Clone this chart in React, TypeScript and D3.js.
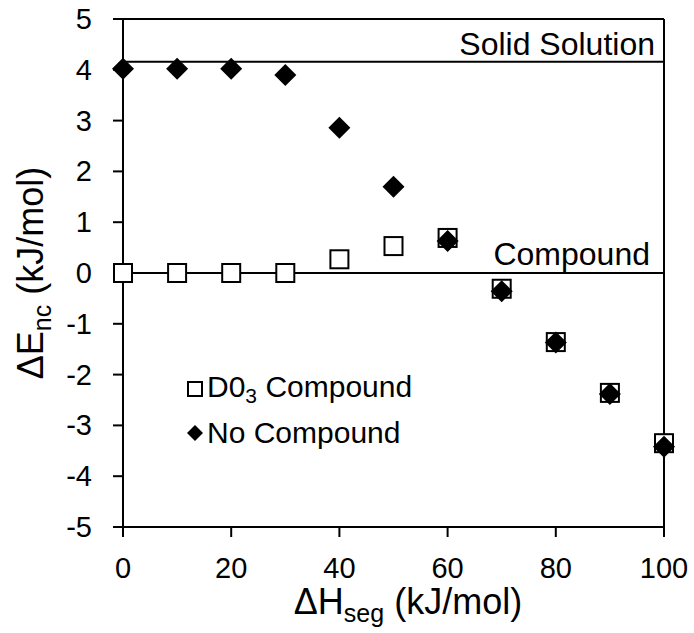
import React from "react";
import * as d3 from "d3";

// x values (kJ/mol)
const dHseg = [0, 10, 20, 30, 40, 50, 60, 70, 80, 90, 100];
// D0_3 compound series
const d03Compound = [0, 0, 0, 0, 0.27, 0.53, 0.69, -0.31, -1.36, -2.36, -3.35];
// no compound series
const noCompound = [4.02, 4.02, 4.02, 3.9, 2.86, 1.7, 0.63, -0.36, -1.37, -2.38, -3.42];
const xTicks = [0, 20, 40, 60, 80, 100];
const yTicks = [5, 4, 3, 2, 1, 0, -1, -2, -3, -4, -5];
const solidSolutionLevel = 4.16;
const compoundLevel = 0;

const W = 694, H = 633;
const margin = { top: 19, right: 30, bottom: 106, left: 123 };
const font = "'Liberation Sans', Arial, sans-serif";

export default function App() {
  const x = d3.scaleLinear().domain([0, 100]).range([margin.left, W - margin.right]);
  const y = d3.scaleLinear().domain([-5, 5]).range([H - margin.bottom, margin.top]);
  const x0 = x(0), x1 = x(100), y0 = y(-5), y1 = y(5);

  const diamond = (cx: number, cy: number, r: number) =>
    `M${cx},${cy - r}L${cx + r},${cy}L${cx},${cy + r}L${cx - r},${cy}Z`;

  return (
    <svg width={W} height={H} style={{ position: "absolute", left: 0, top: 0, background: "#fff" }}
      fontFamily={font}>
      {/* frame */}
      <line x1={x0 - 10} x2={x1} y1={y1} y2={y1} stroke="#000" strokeWidth={2} />
      <line x1={x1} x2={x1} y1={y1} y2={y0} stroke="#000" strokeWidth={2} />
      <line x1={x0} x2={x1} y1={y0} y2={y0} stroke="#000" strokeWidth={2} />
      <line x1={x0} x2={x0} y1={y1} y2={y0 + 10} stroke="#000" strokeWidth={2} />

      {/* reference lines */}
      <line x1={x0} x2={x1} y1={y(solidSolutionLevel)} y2={y(solidSolutionLevel)} stroke="#000" strokeWidth={2} />
      <line x1={x0} x2={x1} y1={y(compoundLevel)} y2={y(compoundLevel)} stroke="#000" strokeWidth={2} />

      {/* y ticks */}
      {yTicks.map(t => (
        <g key={"y" + t}>
          <line x1={x0 - 10} x2={x0} y1={y(t)} y2={y(t)} stroke="#000" strokeWidth={2} />
          <text x={92} y={y(t) + 10} textAnchor="end" fontSize={29}>{t}</text>
        </g>
      ))}
      {/* x ticks */}
      {xTicks.map(t => (
        <g key={"x" + t}>
          <line x1={x(t)} x2={x(t)} y1={y0} y2={y0 + 10} stroke="#000" strokeWidth={2} />
          <text x={x(t)} y={578} textAnchor="middle" fontSize={29}>{t}</text>
        </g>
      ))}

      {/* annotations */}
      <text x={655} y={55} textAnchor="end" fontSize={32}>Solid Solution</text>
      <text x={650} y={265} textAnchor="end" fontSize={32}>Compound</text>

      {/* squares */}
      {dHseg.map((d, i) => (
        <rect key={"s" + i} x={x(d) - 9} y={y(d03Compound[i]) - 9} width={18} height={18}
          fill="#fff" stroke="#000" strokeWidth={2} />
      ))}
      {/* diamonds */}
      {dHseg.map((d, i) => (
        <path key={"d" + i} d={diamond(x(d), y(noCompound[i]), 11)} fill="#000" />
      ))}

      {/* legend */}
      <rect x={188} y={382} width={14} height={14} fill="#fff" stroke="#000" strokeWidth={2} />
      <text x={207} y={397} fontSize={30}>D0<tspan fontSize={21} dy={6}>3</tspan><tspan dy={-6}> Compound</tspan></text>
      <path d={diamond(195, 433, 8)} fill="#000" />
      <text x={207} y={443} fontSize={30}>No Compound</text>

      {/* axis titles */}
      <text x={408} y={614} textAnchor="middle" fontSize={36}>
        ΔH<tspan fontSize={25} dy={8}>seg</tspan><tspan dy={-8}> (kJ/mol)</tspan>
      </text>
      <text transform={`translate(43,${(y0 + y1) / 2}) rotate(-90)`} textAnchor="middle" fontSize={36}>
        ΔE<tspan fontSize={25} dy={8}>nc</tspan><tspan dy={-8}> (kJ/mol)</tspan>
      </text>
    </svg>
  );
}
